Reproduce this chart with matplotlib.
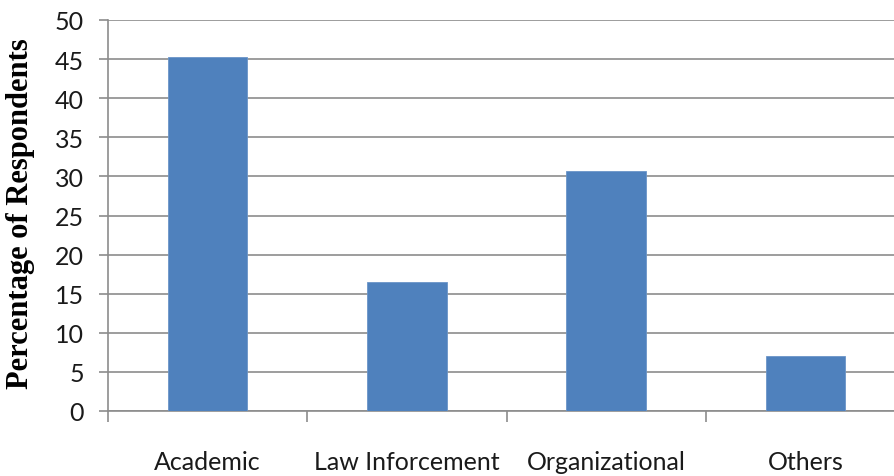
import matplotlib
matplotlib.use("Agg")
import matplotlib.pyplot as plt
import numpy as np

categories = ["Academic", "Law Inforcement", "Organizational", "Others"]
percentages = [45.3, 16.5, 30.7, 7.0]
y_ticks = [0, 5, 10, 15, 20, 25, 30, 35, 40, 45, 50]

W, H = 894, 477
fig = plt.figure(figsize=(W / 100, H / 100), dpi=100)
fig.patch.set_facecolor("white")

# plot area runs a little past the right edge of the figure
left, right = 108, 905
top, bottom = 21, 412
ax = fig.add_axes([left / W, 1 - bottom / H, (right - left) / W, (bottom - top) / H])

grid_col = "#8c8c8c"
x = np.arange(len(categories))
ax.bar(x, percentages, width=0.4, color="#4f81bd", edgecolor="#6b95c8", linewidth=0.6, zorder=3)

ax.set_xlim(-0.5, len(categories) - 0.5)
ax.set_ylim(0, 50)
ax.set_yticks(y_ticks)
ax.yaxis.grid(True, color=grid_col, linewidth=1.2, zorder=0)
ax.set_axisbelow(True)

for s in ["top", "right"]:
    ax.spines[s].set_visible(False)
ax.spines["left"].set_color(grid_col)
ax.spines["bottom"].set_color(grid_col)
ax.spines["left"].set_linewidth(1.2)
ax.spines["bottom"].set_linewidth(1.2)

# category ticks sit on the boundaries, labels in the middle
ax.set_xticks(np.arange(len(categories) + 1) - 0.5)
ax.set_xticklabels([])
ax.set_xticks(x, minor=True)
ax.set_xticklabels(categories, minor=True, fontsize=18, family="Lato", color="#1a1a1a")
ax.tick_params(axis="x", which="major", length=8, width=1.2, color=grid_col, direction="out")
ax.tick_params(axis="x", which="minor", length=0, pad=28)
ax.tick_params(axis="y", length=6.5, width=1.2, color=grid_col, pad=11, labelsize=18, labelcolor="#1a1a1a")
for lab in ax.get_yticklabels():
    lab.set_family("Lato")

fig.text(21 / W, 1 - 214 / H, "Percentage of Respondents", rotation=90, ha="center", va="center",
         family="Liberation Serif", fontweight="bold", fontsize=22, color="black")

fig.savefig("out.png", dpi=100)
